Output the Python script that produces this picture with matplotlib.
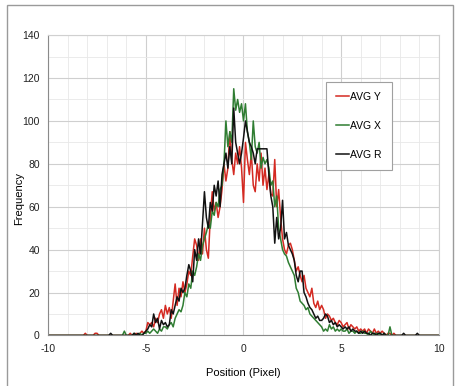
import numpy as np
import matplotlib
matplotlib.use("Agg")
import matplotlib.pyplot as plt
from matplotlib.patches import Rectangle
from matplotlib.ticker import MultipleLocator

plt.rcParams['font.family'] = ['Liberation Sans', 'DejaVu Sans']
plt.rcParams['axes.unicode_minus'] = False

# histogram bins, 0.1 pixel wide, data read between -8.5 and 9.0
x_start, x_end = -8.5, 9.0
pad_left = [0] * 15   # -10.0 .. -8.6
pad_right = [0] * 10  # 9.1 .. 10.0

avg_y = [0, 0, 0, 0, 1,
         0, 0, 0, 0, 1, 1, 0, 0, 0, 0,
         0, 0, 0, 0, 0, 0, 0, 0, 0, 0,
         0, 0, 1, 0, 0, 1, 0, 1, 2, 1,
         2, 6, 5, 6, 4, 8, 6, 10, 12, 8,
         14, 10, 13, 8, 16, 24, 14, 22, 18, 25,
         20, 24, 30, 28, 37, 45, 42, 35, 45, 38,
         50, 40, 36, 55, 67, 58, 62, 55, 60, 68,
         80, 72, 78, 95, 82, 75, 85, 80, 88, 78,
         62, 90, 82, 75, 85, 70, 67, 80, 72, 85,
         70, 78, 68, 75, 66, 65, 82, 60, 68, 55,
         45, 40, 38, 42, 43, 40, 35, 30, 32, 28,
         25, 28, 22, 20, 18, 22, 15, 13, 16, 12,
         14, 12, 8, 10, 9, 7, 8, 6, 5, 7,
         6, 4, 5, 6, 3, 5, 4, 3, 4, 2,
         3, 2, 3, 1, 3, 2, 1, 3, 1, 2,
         1, 2, 1, 0, 1, 1, 0, 1, 0, 0,
         0, 0, 0, 0, 0, 0, 0, 0, 0, 0,
         0]

avg_x = [0, 0, 0, 0, 0,
         0, 0, 0, 0, 0, 0, 0, 0, 0, 0,
         0, 0, 0, 0, 0, 0, 0, 0, 0, 2,
         0, 0, 0, 0, 1, 0, 0, 1, 0, 1,
         1, 2, 1, 2, 3, 2, 1, 3, 2, 4,
         4, 3, 5, 6, 4, 8, 10, 12, 11, 14,
         20, 18, 24, 22, 30, 28, 32, 38, 35, 42,
         45, 48, 52, 50, 58, 56, 62, 60, 68, 70,
         80, 100, 88, 95, 90, 115, 105, 110, 104, 108,
         100, 108, 95, 90, 82, 100, 88, 85, 90, 78,
         83, 80, 82, 78, 70, 72, 60, 65, 50, 45,
         40, 38, 37, 34, 32, 30, 28, 22, 20, 16,
         15, 14, 12, 13, 10, 9, 8, 7, 6, 5,
         4, 2, 3, 2, 5, 3, 4, 2, 3, 2,
         3, 2, 2, 3, 1, 2, 2, 1, 2, 1,
         1, 2, 1, 1, 0, 2, 1, 0, 1, 0,
         1, 0, 1, 0, 0, 4, 0, 0, 0, 0,
         0, 0, 0, 0, 0, 0, 0, 0, 0, 0,
         0]

avg_r = [0, 0, 0, 0, 0,
         0, 0, 0, 0, 0, 0, 0, 0, 0, 0,
         0, 0, 1, 0, 0, 0, 0, 0, 0, 0,
         0, 0, 0, 0, 1, 0, 1, 0, 0, 1,
         2, 3, 5, 4, 10, 6, 8, 3, 7, 5,
         6, 4, 5, 12, 10, 14, 18, 16, 22, 20,
         22, 28, 33, 30, 25, 40, 35, 45, 38, 52,
         67, 55, 50, 62, 58, 70, 65, 72, 60, 75,
         80, 85, 78, 88, 80, 106, 90, 85, 80, 85,
         92, 100, 95, 90, 88, 85, 80, 87, 87, 87,
         87, 87, 87, 75, 65, 60, 43, 55, 45, 50,
         63, 45, 48, 42, 40, 38, 35, 28, 25, 30,
         30, 20, 18, 15, 13, 12, 10, 8, 9, 7,
         7, 8, 10, 9, 6, 7, 5, 6, 4, 5,
         4, 3, 4, 3, 4, 2, 3, 2, 2, 1,
         2, 1, 2, 1, 1, 0, 1, 1, 0, 1,
         1, 0, 1, 0, 0, 0, 0, 0, 0, 0,
         0, 0, 1, 0, 0, 0, 0, 0, 0, 1,
         0]

positions = np.round(np.arange(-10, 10.001, 0.1), 1)

fig = plt.figure(figsize=(4.59, 3.86), dpi=100)
# outer gray frame around the chart
fig.patches.append(Rectangle((7 / 459, -0.02), 446 / 459, 1.02 - 5 / 386,
                             transform=fig.transFigure, fill=False,
                             edgecolor='#9a9a9a', linewidth=1.0))
ax = fig.add_axes([0.105, 0.131, 0.851, 0.778])

series = [("AVG Y", avg_y, '#d42a22'),
          ("AVG X", avg_x, '#2f7d32'),
          ("AVG R", avg_r, '#111111')]
for name, vals, col in series:
    full = pad_left + vals + pad_right
    ax.plot(positions, full, color=col, linewidth=1.1, label=name)

ax.set_xlim(-10, 10)
ax.set_ylim(0, 140)
ax.xaxis.set_major_locator(MultipleLocator(5))
ax.xaxis.set_minor_locator(MultipleLocator(1))
ax.yaxis.set_major_locator(MultipleLocator(20))
ax.yaxis.set_minor_locator(MultipleLocator(10))
ax.grid(which='major', color='#cfcfcf', linewidth=0.8)
ax.grid(which='minor', color='#e8e8e8', linewidth=0.6)
ax.set_axisbelow(True)
ax.tick_params(which='both', length=0, labelsize=7.5, colors='#222222', pad=6)
for s in ['left', 'bottom']:
    ax.spines[s].set_color('#8a8a8a')
for s in ['top', 'right']:
    ax.spines[s].set_color('#d0d0d0')

ax.set_xlabel('Position (Pixel)', fontsize=8, labelpad=10)
ax.set_ylabel('Frequency', fontsize=8)
ax.yaxis.set_label_coords(-0.062, 0.457)

leg = ax.legend(loc='upper left', bbox_to_anchor=(0.711, 0.845),
                fontsize=7.5, handlelength=1.2, handletextpad=0.1,
                labelspacing=1.8, borderpad=1.0, fancybox=False,
                framealpha=1, borderaxespad=0)
leg.get_frame().set_edgecolor('#a0a0a0')
leg.get_frame().set_linewidth(0.8)

fig.savefig('out.png', dpi=100)
